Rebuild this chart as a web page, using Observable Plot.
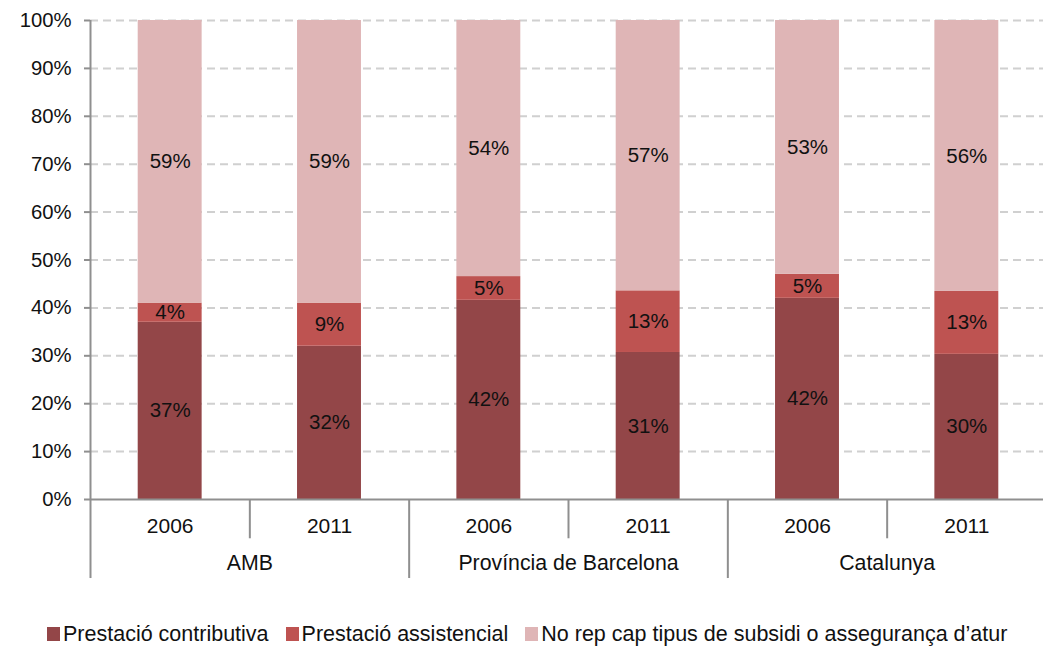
<!DOCTYPE html>
<html><head><meta charset="utf-8">
<script src="https://cdn.jsdelivr.net/npm/d3@7"></script>
<script src="https://cdn.jsdelivr.net/npm/@observablehq/plot@0.6"></script>
<style>
body{margin:0;background:#fff;font-family:"Liberation Sans",Arial,sans-serif;}
#chart svg{display:block;}
#legend{display:flex;padding:22px 0 0 47px;font-size:21.5px;line-height:24px;color:#111;white-space:nowrap;}
.item{display:flex;align-items:center;margin-right:17px;}
.sw{width:13px;height:14px;margin-right:3px;}
</style></head><body><div id="chart"></div><div id="legend"></div>
<script>
const regions = ["AMB", "Província de Barcelona", "Catalunya"];
const years = ["2006", "2011"];
const series = ["Prestació contributiva", "Prestació assistencial", "No rep cap tipus de subsidi o assegurança d’atur"];
const contributiva = [37, 32, 42, 31, 42, 30];
const assistencial = [4, 9, 5, 13, 5, 13];
const noRep = [59, 59, 54, 57, 53, 56];
const yTicks = [0, 10, 20, 30, 40, 50, 60, 70, 80, 90, 100];
const colors = ["#934648", "#BE5351", "#DFB5B6"];

const cats = regions.flatMap(r => years.map(y => ({region: r, year: y})));
const rows = [];
[contributiva, assistencial, noRep].forEach((vals, k) =>
  vals.forEach((v, i) => rows.push({i, series: series[k], value: v})));

const gray = "#8f8f8f";
const seps = d3.range(0, cats.length);

const chart = Plot.plot({
  width: 1043,
  height: 600,
  marginTop: 20,
  marginLeft: 90,
  marginRight: 0,
  marginBottom: 101,
  style: {fontFamily: '"Liberation Sans", Arial, sans-serif', fontSize: "20px", background: "#fff"},
  x: {domain: [0, cats.length], range: [90, 1046], axis: null},
  y: {domain: [0, 1]},
  color: {domain: series, range: colors},
  marks: [
    Plot.ruleY(yTicks.filter(t => t > 0).map(t => t / 100), {stroke: "#d0d0d0", strokeWidth: 2, strokeDasharray: "8,5"}),
    Plot.rectY(rows, Plot.stackY({x: "i", interval: 1, y: "value", fill: "series", offset: "normalize", insetLeft: 47.7, insetRight: 47.7})),
    Plot.text(rows, Plot.stackY({x: d => d.i + 0.5, y: "value", text: d => d.value + "%", offset: "normalize", fontSize: 20.5, fill: "#111"})),
    Plot.ruleY([0], {stroke: gray, strokeWidth: 2}),
    Plot.ruleX([0], {y1: 0, y2: 1, stroke: gray, strokeWidth: 2}),
    Plot.ruleX(seps, {x: d => d, y1: 0, y2: d => d % 2 === 0 ? -0.165 : -0.082, stroke: gray, strokeWidth: 2}),
    Plot.axisY(yTicks.map(t => t / 100), {tickFormat: d => Math.round(d * 100) + "%", tickSize: 6, tickPadding: 13, fontSize: 20.3, stroke: gray, fill: "#111", strokeWidth: 2, label: null}),
    Plot.text(cats, {x: (d, i) => i + 0.5, text: "year", frameAnchor: "bottom", dy: 33, fontSize: 21, fill: "#111"}),
    Plot.text(regions, {x: (d, i) => 2 * i + 1, text: d => d, frameAnchor: "bottom", dy: 70, fontSize: 21.3, fill: "#111"})
  ]
});
document.getElementById("chart").append(chart);

const legend = document.getElementById("legend");
series.forEach((s, k) => {
  const item = document.createElement("div");
  item.className = "item";
  const sw = document.createElement("span");
  sw.className = "sw";
  sw.style.background = colors[k];
  const t = document.createElement("span");
  t.textContent = s;
  item.append(sw, t);
  legend.append(item);
});
</script></body></html>
